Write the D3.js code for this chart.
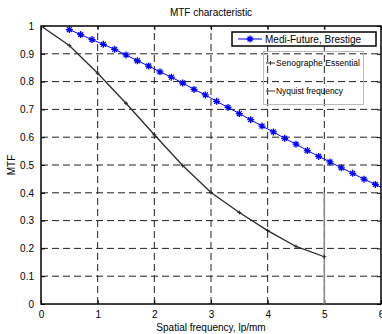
<!DOCTYPE html>
<html>
<head>
<meta charset="utf-8">
<script src="https://cdn.jsdelivr.net/npm/d3@7"></script>
<style>
  body { margin: 0; background: #fff; }
  svg { display: block; font-family: "Liberation Sans", Arial, sans-serif; }
</style>
</head>
<body>
<svg id="chart"></svg>
<script>
// values
var brestigeX = [0.5, 0.7, 0.9, 1.1, 1.3, 1.5, 1.7, 1.9, 2.1, 2.3, 2.5, 2.7, 2.9, 3.1, 3.3,
  3.5, 3.7, 3.9, 4.1, 4.3, 4.5, 4.7, 4.9, 5.1, 5.3, 5.5, 5.7, 5.9, 6.1];
var brestigeY = [0.987, 0.969, 0.951, 0.934, 0.916, 0.896, 0.875, 0.856, 0.835, 0.816, 0.795,
  0.772, 0.752, 0.729, 0.707, 0.685, 0.663, 0.640, 0.619, 0.596, 0.575, 0.552, 0.531, 0.511,
  0.490, 0.470, 0.449, 0.430, 0.41];
var senoX = [0, 0.5, 1, 1.5, 2, 2.5, 3, 3.5, 4, 4.5, 5];
var senoY = [1, 0.93, 0.83, 0.722, 0.609, 0.498, 0.401, 0.329, 0.264, 0.207, 0.170];
var nyquistX = [5, 5];
var nyquistY = [0, 0.4];
var xTicks = [0, 1, 2, 3, 4, 5, 6];
var yTicks = [0, 0.1, 0.2, 0.3, 0.4, 0.5, 0.6, 0.7, 0.8, 0.9, 1];
var seriesNames = ["Medi-Future, Brestige", "Senographe Essential", "Nyquist frequency"];

var width = 382, height = 334;
var pl = 41, pr = 381, pt = 26, pb = 304; // plot box

var svg = d3.select("#chart").attr("width", width).attr("height", height);

var x = d3.scaleLinear().domain([0, 6]).range([pl, pr]);
var y = d3.scaleLinear().domain([0, 1]).range([pb, pt]);

svg.append("defs").append("clipPath").attr("id", "plot")
  .append("rect").attr("x", pl).attr("y", pt)
  .attr("width", pr - pl).attr("height", pb - pt);

// dashed grid
var grid = svg.append("g").attr("stroke", "#222").attr("stroke-width", 1)
  .attr("stroke-dasharray", "7,4");
grid.selectAll(".gx").data(xTicks.slice(1, -1)).join("line")
  .attr("x1", d => x(d)).attr("x2", d => x(d))
  .attr("y1", pb).attr("y2", pt);
grid.selectAll(".gy").data(yTicks.slice(1, -1)).join("line")
  .attr("y1", d => y(d)).attr("y2", d => y(d))
  .attr("x1", pl).attr("x2", pr);

// axes, ticks inward
var fmt = d => d3.format("~g")(d);
svg.append("g").attr("transform", "translate(0," + pb + ")")
  .call(d3.axisBottom(x).tickValues(xTicks).tickSizeInner(-4).tickSizeOuter(0).tickPadding(7).tickFormat(fmt));
svg.append("g").attr("transform", "translate(0," + pt + ")")
  .call(d3.axisTop(x).tickValues(xTicks).tickSizeInner(-4).tickSizeOuter(0).tickFormat(""));
svg.append("g").attr("transform", "translate(" + pl + ",0)")
  .call(d3.axisLeft(y).tickValues(yTicks).tickSizeInner(-4).tickSizeOuter(0).tickPadding(7).tickFormat(fmt));
svg.append("g").attr("transform", "translate(" + pr + ",0)")
  .call(d3.axisRight(y).tickValues(yTicks).tickSizeInner(-4).tickSizeOuter(0).tickFormat(""));
svg.selectAll(".domain").remove();
svg.selectAll(".tick line").attr("stroke", "#000");
svg.selectAll(".tick text").attr("font-size", 10).attr("fill", "#000")
  .attr("font-family", "Liberation Sans, Arial, sans-serif");

svg.append("rect").attr("x", pl).attr("y", pt)
  .attr("width", pr - pl).attr("height", pb - pt)
  .attr("fill", "none").attr("stroke", "#000").attr("stroke-width", 1.5);

var plot = svg.append("g").attr("clip-path", "url(#plot)");
var line = d3.line().x(d => x(d[0])).y(d => y(d[1]));

// Nyquist
plot.append("path").datum(d3.zip(nyquistX, nyquistY)).attr("d", line)
  .attr("fill", "none").attr("stroke", "#888").attr("stroke-width", 1.5);

// Senographe
var seno = d3.zip(senoX, senoY);
plot.append("path").datum(seno).attr("d", line)
  .attr("fill", "none").attr("stroke", "#2a2a2a").attr("stroke-width", 1.3);
plot.selectAll(".sm").data(seno).join("path")
  .attr("d", d => "M" + (x(d[0]) - 2) + "," + y(d[1]) + "h4M" + x(d[0]) + "," + (y(d[1]) - 2) + "v4")
  .attr("stroke", "#2a2a2a").attr("stroke-width", 1);

// Brestige
var star = function (cx, cy, r) {
  var a = r * 0.7;
  return "M" + (cx - r) + "," + cy + "h" + 2 * r + "M" + cx + "," + (cy - r) + "v" + 2 * r +
    "M" + (cx - a) + "," + (cy - a) + "l" + 2 * a + "," + 2 * a +
    "M" + (cx - a) + "," + (cy + a) + "l" + 2 * a + "," + (-2 * a);
};
var bres = d3.zip(brestigeX, brestigeY);
plot.append("path").datum(bres).attr("d", line)
  .attr("fill", "none").attr("stroke", "#0000ff").attr("stroke-width", 1);
plot.selectAll(".bm").data(bres).join("path")
  .attr("d", d => star(x(d[0]), y(d[1]), 3.5))
  .attr("stroke", "#0000ff").attr("stroke-width", 1.3);

// legend 1
var lg1 = svg.append("g");
lg1.append("rect").attr("x", 232).attr("y", 32).attr("width", 144).attr("height", 14)
  .attr("fill", "#fff").attr("stroke", "#000").attr("stroke-width", 1.5);
lg1.append("line").attr("x1", 238).attr("x2", 262).attr("y1", 39).attr("y2", 39)
  .attr("stroke", "#0000ff").attr("stroke-width", 1);
lg1.append("path").attr("d", star(250, 39, 3.5)).attr("stroke", "#0000ff").attr("stroke-width", 1.3);
lg1.append("text").attr("x", 265).attr("y", 43).attr("font-size", 10).text(seriesNames[0]);

// legend 2 (transparent)
var lg2 = svg.append("g");
lg2.append("rect").attr("x", 263.5).attr("y", 51.5).attr("width", 100).attr("height", 53)
  .attr("fill", "none").attr("stroke", "#bbb").attr("stroke-width", 1);
lg2.append("line").attr("x1", 266).attr("x2", 275).attr("y1", 63).attr("y2", 63)
  .attr("stroke", "#2a2a2a").attr("stroke-width", 1);
lg2.append("path").attr("d", "M270.5,61v4").attr("stroke", "#2a2a2a");
lg2.append("text").attr("x", 276).attr("y", 66).attr("font-size", 8.5)
  .attr("textLength", 84).text(seriesNames[1]);
lg2.append("line").attr("x1", 266).attr("x2", 275).attr("y1", 91).attr("y2", 91)
  .attr("stroke", "#666").attr("stroke-width", 1.3);
lg2.append("text").attr("x", 276).attr("y", 94).attr("font-size", 8.5)
  .attr("textLength", 67).text(seriesNames[2]);

// titles
svg.append("text").attr("x", (pl + pr) / 2).attr("y", 16).attr("text-anchor", "middle")
  .attr("font-size", 10).text("MTF characteristic");
svg.append("text").attr("x", (pl + pr) / 2).attr("y", 331).attr("text-anchor", "middle")
  .attr("font-size", 10).text("Spatial frequency, lp/mm");
svg.append("text").attr("transform", "translate(15," + (pt + pb) / 2 + ") rotate(-90)")
  .attr("text-anchor", "middle").attr("font-size", 10).text("MTF");
</script>
</body>
</html>
